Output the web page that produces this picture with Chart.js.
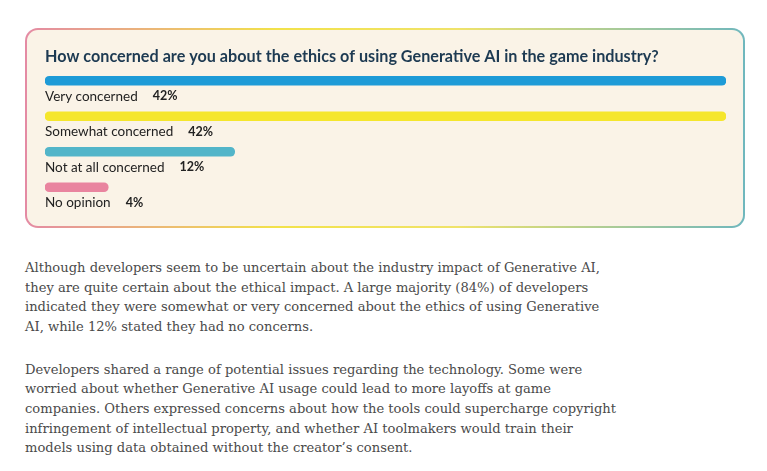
<!DOCTYPE html>
<html>
<head>
<meta charset="utf-8">
<script src="https://cdn.jsdelivr.net/npm/chart.js@4"></script>
<style>
  html, body { margin: 0; padding: 0; background: #ffffff; width: 767px; height: 471px; overflow: hidden; }
  #card {
    position: absolute; left: 25px; top: 28px; width: 716px; height: 196px;
    border: 2px solid transparent; border-radius: 13px;
    background: linear-gradient(#faf3e7, #faf3e7) padding-box,
                linear-gradient(90deg, #e48aa4 0%, #f2e24a 35%, #f0e36a 60%, #6fb7bd 100%) border-box;
  }
  #wrap { position: absolute; left: 0; top: 0; width: 767px; height: 240px; }
  #text { position: absolute; left: 25px; top: 258px; font-family: "DejaVu Serif", serif; font-size: 13.1px; color: #4a4a4a; line-height: 19.6px; white-space: nowrap; }
  #text p { margin: 0 0 23.5px 0; }
</style>
</head>
<body>
<div id="card"></div>
<div id="wrap"><canvas id="c" width="767" height="240"></canvas></div>
<div id="text">
<p>Although developers seem to be uncertain about the industry impact of Generative AI,<br>they are quite certain about the ethical impact. A large majority (84%) of developers<br>indicated they were somewhat or very concerned about the ethics of using Generative<br>AI, while 12% stated they had no concerns.</p>
<p>Developers shared a range of potential issues regarding the technology. Some were<br>worried about whether Generative AI usage could lead to more layoffs at game<br>companies. Others expressed concerns about how the tools could supercharge copyright<br>infringement of intellectual property, and whether AI toolmakers would train their<br>models using data obtained without the creator’s consent.</p>
</div>
<script>
const titleText = "How concerned are you about the ethics of using Generative AI in the game industry?";
const categories = ["Very concerned", "Somewhat concerned", "Not at all concerned", "No opinion"];
const values = [42, 42, 11.7, 3.9];
const valueLabels = ["42%", "42%", "12%", "4%"];
const colors = ["#1e9bd7", "#f5e62c", "#52b5c9", "#e9849f"];

const labelPlugin = {
  id: 'rowLabels',
  afterDatasetsDraw(chart) {
    const ctx = chart.ctx;
    const meta = chart.getDatasetMeta(0);
    const left = chart.scales.x.getPixelForValue(0);
    ctx.save();
    ctx.textBaseline = 'middle';
    meta.data.forEach((bar, i) => {
      const y = bar.y + 15.5;
      ctx.font = '13.5px Lato';
      ctx.fillStyle = '#222222';
      ctx.fillText(categories[i], left, y);
      const w = ctx.measureText(categories[i]).width;
      ctx.font = 'bold 12.5px Lato';
      ctx.fillText(valueLabels[i], left + w + 15, y);
    });
    ctx.font = 'bold 16.2px Lato';
    ctx.fillStyle = '#1d3a52';
    ctx.fillText(titleText, left, 57);
    ctx.restore();
  }
};

new Chart(document.getElementById('c'), {
  type: 'bar',
  data: {
    labels: categories,
    datasets: [{
      data: values,
      backgroundColor: colors,
      barThickness: 9,
      borderRadius: 4.5,
      borderSkipped: false
    }]
  },
  options: {
    indexAxis: 'y',
    responsive: false,
    animation: false,
    layout: { padding: { left: 45, right: 41, top: 63, bottom: 35 } },
    plugins: { legend: { display: false }, tooltip: { enabled: false }, title: { display: false } },
    scales: {
      x: { display: false, min: 0, max: 42 },
      y: { display: false, offset: true, grid: { display: false } }
    }
  },
  plugins: [labelPlugin]
});
</script>
</body>
</html>
